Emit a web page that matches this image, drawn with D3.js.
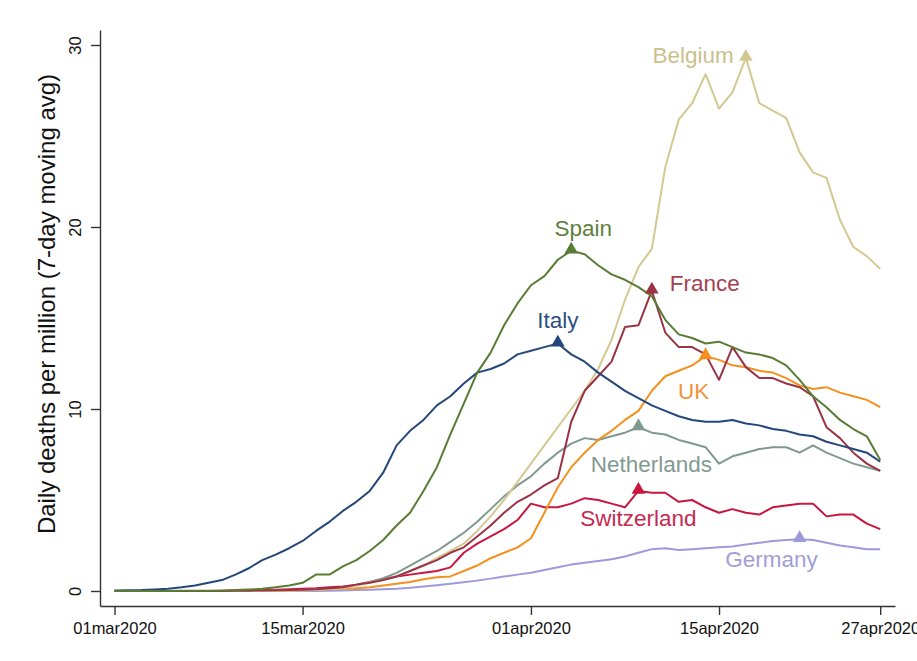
<!DOCTYPE html>
<html><head><meta charset="utf-8">
<script src="https://cdn.jsdelivr.net/npm/d3@7"></script>
<style>
html,body{margin:0;padding:0;background:#fff;}
svg{display:block;font-family:"Liberation Sans",Arial,sans-serif;}
</style></head>
<body>
<svg id="chart" width="917" height="661"></svg>
<script>
// ---------- data ----------
const startDate = "2020-03-01";
const endDate = "2020-04-27";
const xTickDates = ["2020-03-01","2020-03-15","2020-04-01","2020-04-15","2020-04-27"];
const xTickLabels = ["01mar2020","15mar2020","01apr2020","15apr2020","27apr2020"];
const yTicks = [0,10,20,30];
const yTitle = "Daily deaths per million (7-day moving avg)";

const countries = ["Italy","Spain","France","UK","Belgium","Netherlands","Switzerland","Germany"];

const italy = [0.03,0.04,0.05,0.08,0.12,0.2,0.3,0.45,0.6,0.9,
  1.25,1.7,2.0,2.35,2.75,3.3,3.8,4.4,4.9,5.5,
  6.5,8.0,8.8,9.4,10.2,10.7,11.4,12.0,12.2,12.5,
  13.0,13.2,13.4,13.6,13.0,12.6,12.0,11.5,11.0,10.6,
  10.2,9.9,9.6,9.4,9.3,9.3,9.4,9.2,9.1,8.9,
  8.8,8.6,8.5,8.2,8.0,7.8,7.6,7.1];
const spain = [0,0,0,0,0,0.01,0.02,0.02,0.03,0.05,
  0.08,0.12,0.2,0.3,0.45,0.9,0.9,1.35,1.7,2.2,
  2.8,3.6,4.3,5.5,6.8,8.6,10.3,12.0,13.1,14.6,
  15.8,16.8,17.3,18.2,18.7,18.5,17.9,17.4,17.1,16.7,
  16.2,14.9,14.1,13.9,13.6,13.7,13.4,13.1,13.0,12.8,
  12.4,11.6,10.7,10.1,9.4,8.9,8.5,7.2];
const france = [0,0,0,0,0,0,0,0,0,0.01,
  0.02,0.03,0.04,0.05,0.07,0.1,0.15,0.2,0.35,0.45,
  0.6,0.8,1.1,1.4,1.7,2.1,2.4,3.0,3.6,4.3,
  4.9,5.3,5.8,6.2,9.3,11.0,11.8,12.6,14.5,14.6,
  16.5,14.2,13.4,13.4,13.0,11.6,13.4,12.3,11.7,11.7,
  11.4,11.2,10.7,9.0,8.4,7.6,7.0,6.6];
const uk = [0,0,0,0,0,0,0,0,0,0,
  0.01,0.01,0.02,0.03,0.05,0.07,0.1,0.12,0.15,0.2,
  0.3,0.4,0.5,0.65,0.75,0.8,1.1,1.4,1.8,2.1,
  2.4,2.9,4.3,5.7,6.8,7.6,8.3,8.8,9.4,9.9,
  11.0,11.8,12.1,12.4,12.9,12.7,12.4,12.3,12.1,12.0,
  11.7,11.3,11.1,11.2,10.9,10.7,10.5,10.1];
const belgium = [0,0,0,0,0,0,0,0,0,0,
  0,0,0.01,0.02,0.03,0.05,0.1,0.15,0.3,0.45,
  0.6,0.8,1.1,1.4,1.8,2.2,2.6,3.3,4.1,5.0,
  6.0,7.0,8.0,9.0,10.0,11.0,12.2,13.8,16.0,17.8,
  18.8,23.3,25.9,26.8,28.4,26.5,27.4,29.3,26.8,26.4,
  26.0,24.1,23.0,22.7,20.4,18.9,18.4,17.7];
const netherlands = [0,0,0,0,0,0,0,0,0,0,
  0,0.01,0.02,0.03,0.05,0.07,0.1,0.2,0.3,0.5,
  0.7,1.0,1.4,1.8,2.2,2.7,3.2,3.8,4.5,5.2,
  5.8,6.3,7.0,7.6,8.1,8.4,8.3,8.5,8.7,9.0,
  8.7,8.6,8.3,8.1,7.9,7.0,7.4,7.6,7.8,7.9,
  7.9,7.6,8.0,7.6,7.3,7.0,6.8,6.6];
const switzerland = [0,0,0,0,0,0,0,0,0,0.02,
  0.03,0.05,0.07,0.1,0.12,0.15,0.2,0.25,0.35,0.5,
  0.65,0.8,0.9,1.0,1.1,1.3,2.1,2.6,3.0,3.4,
  3.9,4.8,4.6,4.6,4.8,5.1,5.0,4.8,4.6,5.5,
  5.4,5.4,4.9,5.0,4.6,4.3,4.5,4.3,4.2,4.6,
  4.7,4.8,4.8,4.1,4.2,4.2,3.7,3.4];
const germany = [0,0,0,0,0,0,0,0,0,0,
  0,0,0,0,0,0,0.02,0.03,0.05,0.07,
  0.1,0.13,0.18,0.25,0.32,0.4,0.48,0.57,0.68,0.8,
  0.9,1.0,1.15,1.3,1.45,1.55,1.65,1.75,1.9,2.1,
  2.3,2.35,2.25,2.3,2.35,2.4,2.45,2.55,2.65,2.75,
  2.8,2.85,2.8,2.65,2.5,2.4,2.3,2.3];

// ---------- styles ----------
const styles = {
  Italy:       {color:"#23477a", text:"#2d4f80", dx:0,   dy:-23, anchor:"middle"},
  Spain:       {color:"#587c33", text:"#5e7f3c", dx:12,  dy:-23, anchor:"middle"},
  France:      {color:"#9a3346", text:"#a3404f", dx:18,  dy:-8,  anchor:"start"},
  UK:          {color:"#f5901e", text:"#f2933a", dx:-12, dy:35,  anchor:"middle"},
  Belgium:     {color:"#d3c890", text:"#cbbf8b", dx:-12, dy:-3,  anchor:"end"},
  Netherlands: {color:"#80998f", text:"#819a91", dx:13,  dy:37,  anchor:"middle"},
  Switzerland: {color:"#c8163f", text:"#c42a50", dx:0,   dy:27,  anchor:"middle"},
  Germany:     {color:"#9e99dc", text:"#a29ed8", dx:-28, dy:20,  anchor:"middle"}
};
const seriesValues = {Italy:italy, Spain:spain, France:france, UK:uk, Belgium:belgium,
  Netherlands:netherlands, Switzerland:switzerland, Germany:germany};

// ---------- scales ----------
const parse = d3.utcParse("%Y-%m-%d");
const t0 = parse(startDate), t1 = parse(endDate);
const dayMs = 864e5;
const dates = d3.utcDays(t0, new Date(+t1 + dayMs));

const svg = d3.select("#chart");
const x = d3.scaleUtc()
  .domain([new Date(+t0 - 1.08*dayMs), new Date(+t1 + 1.1*dayMs)])
  .range([100, 895]);
const y = d3.scaleLinear().domain([-0.824, 30.824]).range([606, 30]);

// ---------- axes ----------
const xAxis = d3.axisBottom(x)
  .tickValues(xTickDates.map(parse))
  .tickFormat((d,i)=>xTickLabels[i])
  .tickSize(9).tickSizeOuter(0).tickPadding(7);
const gx = svg.append("g").attr("transform","translate(0,606)").call(xAxis);
gx.selectAll("text").attr("font-size","16.5px").attr("fill","#111").attr("font-family","Liberation Sans, Arial, sans-serif");

const yAxis = d3.axisLeft(y).tickValues(yTicks).tickFormat(d3.format("d")).tickSize(9).tickSizeOuter(0);
const gy = svg.append("g").attr("transform","translate(100,0)").call(yAxis);
gy.selectAll("text")
  .attr("x",null).attr("dy",null)
  .attr("transform","translate(-25,0) rotate(-90)")
  .attr("text-anchor","middle")
  .attr("dy","0.35em")
  .attr("font-size","16.5px").attr("fill","#111")
  .attr("font-family","Liberation Sans, Arial, sans-serif");
[gx,gy].forEach(g=>{
  g.selectAll(".domain").attr("stroke","#333").attr("stroke-width",1.4);
  g.selectAll(".tick line").attr("stroke","#333").attr("stroke-width",1.4);
});

svg.append("text")
  .attr("transform","translate(47,304) rotate(-90)")
  .attr("text-anchor","middle").attr("dy","0.35em")
  .attr("font-size","24px").attr("fill","#111")
  .text(yTitle);

// ---------- lines ----------
const line = d3.line().x((d,i)=>x(dates[i])).y(d=>y(d));
const drawOrder = ["Germany","Switzerland","Netherlands","UK","Belgium","France","Italy","Spain"];
drawOrder.forEach(c=>{
  svg.append("path").datum(seriesValues[c])
    .attr("fill","none").attr("stroke",styles[c].color)
    .attr("stroke-width",2).attr("stroke-linejoin","round")
    .attr("d",line);
});

// ---------- peak markers and labels ----------
const tri = d3.symbol().type(d3.symbolTriangle).size(80);
countries.forEach(c=>{
  const vals = seriesValues[c];
  const i = d3.maxIndex(vals);
  const px = x(dates[i]), py = y(vals[i]);
  svg.append("path").attr("d",tri())
    .attr("transform",`translate(${px},${py-1})`)
    .attr("fill",styles[c].color);
  svg.append("text")
    .attr("x",px+styles[c].dx).attr("y",py+styles[c].dy)
    .attr("dy","0.35em").attr("text-anchor",styles[c].anchor)
    .attr("font-size","22.5px").attr("fill",styles[c].text)
    .text(c);
});
</script>
</body></html>
